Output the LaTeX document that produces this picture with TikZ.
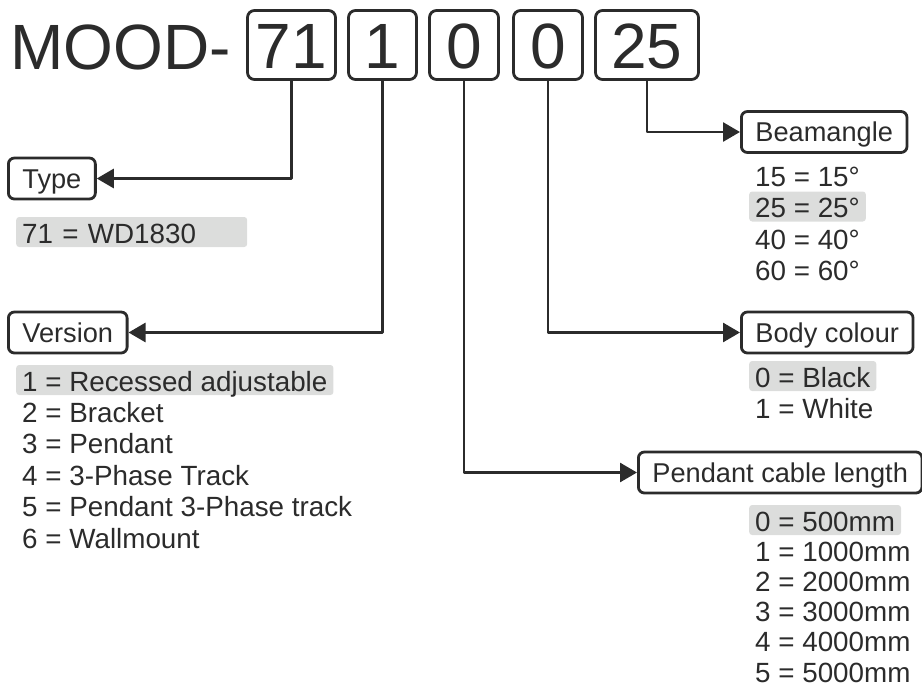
\documentclass[tikz,border=0pt]{standalone}
\usepackage{fontspec}
\setmainfont{Liberation Sans}
\usetikzlibrary{arrows.meta}
\definecolor{ink}{HTML}{2B2B2B}
\definecolor{shade}{HTML}{DCDDDC}
\begin{document}
\begin{tikzpicture}[x=1pt, y=-1pt, line join=round, >={Triangle[length=17pt,width=19pt]},
		every node/.style={text=ink},
		digit/.style={draw=ink, line width=2.8pt, rounded corners=7pt, minimum width=69pt, minimum height=69pt, text height=46pt, text depth=0pt, inner sep=0pt, font=\fontsize{64}{70}\selectfont},
		field/.style={draw=ink, line width=2.8pt, rounded corners=6pt, anchor=west, minimum height=41pt, text height=22pt, text depth=3pt, inner xsep=14pt, font=\fontsize{27.2}{30}\selectfont},
		item/.style={anchor=base west, inner xsep=6pt, inner ysep=3pt, text height=23pt, text depth=1pt, font=\fontsize{27.8}{30}\selectfont},
		chosen/.style={fill=shade, rounded corners=3pt},
		link/.style={draw=ink, line width=2.8pt, ->}]
	\useasboundingbox (0,0) rectangle (922,691);
	\node[anchor=base west, inner sep=0pt, font=\fontsize{64}{70}\selectfont] (mood) at (10,69) {MOOD-};
	\node[digit, minimum width=88pt] (d71) at (291.5,45) {71};
	\node[digit, minimum width=68pt] (d1) at (382.5,45) {1};
	\node[digit] (d0a) at (464,45) {0};
	\node[digit] (d0b) at (548,45) {0};
	\node[digit, minimum width=103pt] (d25) at (647,45) {25};
	\node[field] (type) at (7,178.5) {Type};
	\node[field] (version) at (7,332.5) {Version};
	\node[field] (beam) at (740,132) {Beamangle};
	\node[field] (body) at (740,332.5) {Body colour};
	\node[field] (cable) at (637,472.5) {Pendant cable length};
	\draw[link] (d71.south) |- (type.east);
	\draw[link] (d1.south) |- (version.east);
	\draw[link] (d0a.south) |- (cable.west);
	\draw[link] (d0b.south) |- (body.west);
	\draw[link] (d25.south) |- (beam.west);
	\node[item, chosen, text width=219pt] (t1) at (16,243) {71 = WD1830};
	\foreach \txt/\opt [count=\i from 0] in {1 = Recessed adjustable/chosen, 2 = Bracket/, 3 = Pendant/, 4 = 3-Phase Track/, 5 = Pendant 3-Phase track/, 6 = Wallmount/}
		\node[item, \opt] (v\i) at (16,{391+31.4*\i}) {\txt};
	\foreach \txt/\opt [count=\i from 0] in {15 = 15°/, 25 = 25°/chosen, 40 = 40°/, 60 = 60°/}
		\node[item, \opt] (b\i) at (749,{186+31.5*\i}) {\txt};
	\foreach \txt/\opt [count=\i from 0] in {0 = Black/chosen, 1 = White/}
		\node[item, \opt] (c\i) at (749,{387+31*\i}) {\txt};
	\foreach \txt/\opt [count=\i from 0] in {0 = 500mm/chosen, 1 = 1000mm/, 2 = 2000mm/, 3 = 3000mm/, 4 = 4000mm/, 5 = 5000mm/}
		\node[item, \opt] (p\i) at (749,{531+30.2*\i}) {\txt};
\end{tikzpicture}
\end{document}
